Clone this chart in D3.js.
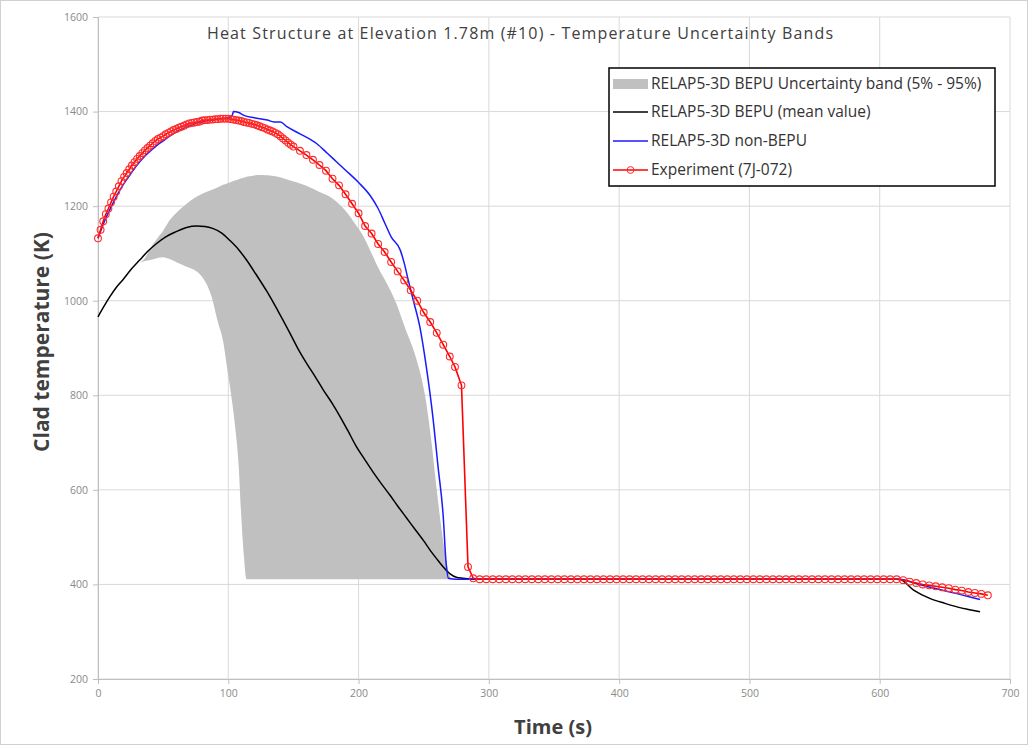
<!DOCTYPE html>
<html>
<head>
<meta charset="utf-8">
<script src="https://cdn.jsdelivr.net/npm/d3@7"></script>
<style>
  html, body { margin: 0; padding: 0; background: #fff; }
  svg { display: block; }
  text { font-family: "Open Sans", "Noto Sans", sans-serif; }
</style>
</head>
<body>
<svg id="chart" width="1028" height="754"></svg>
<script>
// ---------------- DATA ----------------
const chartTitle = "Heat Structure at Elevation 1.78m (#10) - Temperature Uncertainty Bands";
const xAxisTitle = "Time (s)";
const yAxisTitle = "Clad temperature (K)";
const xTicks = [0, 100, 200, 300, 400, 500, 600, 700];
const yTicks = [200, 400, 600, 800, 1000, 1200, 1400, 1600];
const seriesNames = [
  "RELAP5-3D BEPU Uncertainty band (5% - 95%)",
  "RELAP5-3D BEPU (mean value)",
  "RELAP5-3D non-BEPU",
  "Experiment (7J-072)"
];

// Uncertainty band (5% - 95%)
const bandTime = [32, 36, 40, 45, 50, 55, 62, 68, 74, 80, 87, 92, 96, 99, 102, 105, 108, 110, 112, 114, 125, 135, 147, 160, 170, 178, 190, 198, 204, 210, 216, 222, 229, 236, 244, 251, 256, 260, 264, 267, 270, 272];
const bandHigh = [1080, 1090, 1110, 1130, 1148, 1170, 1191, 1205, 1217, 1226, 1234, 1240, 1245, 1248, 1251, 1254, 1257, 1259, 1260, 1262, 1266, 1264, 1255, 1243, 1230, 1220, 1190, 1160, 1135, 1100, 1065, 1035, 994, 940, 880, 800, 700, 600, 510, 455, 418, 411];
const bandLow  = [1080, 1084, 1086, 1090, 1092, 1088, 1079, 1072, 1065, 1050, 1010, 955, 915, 860, 805, 740, 649, 543, 460, 411, 411, 411, 411, 411, 411, 411, 411, 411, 411, 411, 411, 411, 411, 411, 411, 411, 411, 411, 411, 411, 411, 411];

// BEPU mean value
const meanTime = [0, 5, 9, 14, 19, 25, 32, 38, 45, 52, 60, 68, 76, 82, 88, 95, 101, 108, 114, 121, 130, 138, 147, 153, 160, 167, 173, 180, 186, 192, 198, 205, 211, 218, 224, 230, 237, 244, 250, 255, 260, 265, 270, 275, 280, 290, 615, 626, 638, 650, 660, 670, 677];
const meanTemp = [966, 990, 1008, 1028, 1044, 1065, 1086, 1104, 1121, 1135, 1146, 1155, 1158, 1157, 1153, 1143, 1128, 1108, 1086, 1057, 1018, 979, 933, 901, 868, 838, 811, 782, 754, 724, 693, 663, 638, 611, 589, 566, 540, 514, 492, 472, 454, 437, 423, 415, 413, 411, 411, 388, 371, 360, 352, 346, 342];

// non-BEPU
const nonTime = [0, 5, 10, 15, 20, 25, 30, 35, 40, 45, 50, 55, 60, 65, 70, 75, 80, 85, 90, 95, 100, 103, 104, 108, 112, 120, 130, 135, 140, 145, 155, 168, 176, 183, 190, 200, 209, 215, 220, 225, 232, 235, 238, 242, 247, 252, 257, 261, 265, 267, 269, 275, 615, 630, 645, 660, 670, 677];
const nonTemp = [1132, 1168, 1198, 1225, 1248, 1268, 1287, 1303, 1316, 1328, 1338, 1348, 1357, 1364, 1370, 1375, 1378, 1381, 1383, 1385, 1387, 1392, 1400, 1398, 1392, 1387, 1382, 1378, 1378, 1368, 1353, 1332, 1312, 1294, 1276, 1250, 1222, 1195, 1165, 1135, 1107, 1080, 1045, 1001, 945, 860, 755, 649, 543, 452, 413, 411, 411, 400, 390, 380, 373, 368];

// Experiment (7J-072)
const expTime = [0, 2, 4, 6, 8, 10, 12, 14, 16, 18, 20, 22, 24, 26, 28, 30, 32, 34, 36, 38, 40, 42, 44, 46, 48, 50, 52, 54, 56, 58, 60, 62, 64, 66, 68, 70, 72, 74, 76, 78, 80, 82, 84, 86, 88, 90, 92, 94, 96, 98, 100, 102, 104, 106, 108, 110, 112, 114, 116, 118, 120, 122, 124, 126, 128, 130, 132, 134, 136, 138, 140, 142, 144, 146, 148, 150,
  155, 160, 165, 170, 175, 180, 185, 190, 195, 200, 205, 210, 215, 220, 225, 230, 235, 240, 245, 250, 255, 260, 265, 270, 274, 279, 284, 288,
  293, 298, 303, 308, 313, 318, 323, 328, 333, 338, 343, 348, 353, 358, 363, 368, 373, 378, 383, 388, 393, 398, 403, 408, 413, 418, 423, 428, 433, 438, 443, 448, 453, 458, 463, 468, 473, 478, 483, 488, 493, 498, 503, 508, 513, 518, 523, 528, 533, 538, 543, 548, 553, 558, 563, 568, 573, 578, 583, 588, 593, 598, 603, 608, 613,
  618, 623, 628, 633, 638, 643, 648, 653, 658, 663, 668, 673, 678, 683];
const expTemp = [1132, 1150, 1168, 1183, 1195, 1208, 1220, 1231, 1242, 1253, 1262, 1270, 1278, 1286, 1293, 1300, 1306, 1312, 1318, 1323, 1328, 1333, 1338, 1342, 1345, 1348, 1352, 1355, 1358, 1361, 1363, 1366, 1368, 1370, 1373, 1375, 1376, 1377, 1378, 1379, 1381, 1382, 1382, 1383, 1383, 1384, 1384, 1385, 1385, 1385, 1385, 1384, 1383, 1382, 1381, 1380, 1378, 1377, 1376, 1374, 1373, 1371, 1369, 1367, 1365, 1362, 1360, 1358, 1355, 1352, 1348, 1343, 1339, 1334, 1330, 1326,
  1317, 1308, 1298, 1287, 1275, 1258, 1244, 1225, 1205, 1185, 1158, 1142, 1120, 1103, 1082, 1062, 1043, 1022, 1000, 975, 955, 932, 907, 882, 860, 821, 437, 413,
  411, 411, 411, 411, 411, 411, 411, 411, 411, 411, 411, 411, 411, 411, 411, 411, 411, 411, 411, 411, 411, 411, 411, 411, 411, 411, 411, 411, 411, 411, 411, 411, 411, 411, 411, 411, 411, 411, 411, 411, 411, 411, 411, 411, 411, 411, 411, 411, 411, 411, 411, 411, 411, 411, 411, 411, 411, 411, 411, 411, 411, 411, 411, 411, 411,
  409, 406, 403, 400, 398, 396, 394, 392, 389, 387, 384, 382, 380, 377];

// ---------------- CHART ----------------
const svg = d3.select("#chart");
const W = 1028, H = 754;
const plot = { left: 98, right: 1010, top: 17, bottom: 679 };

const x = d3.scaleLinear().domain([0, 700]).range([plot.left, plot.right]);
const y = d3.scaleLinear().domain([200, 1600]).range([plot.bottom, plot.top]);

// outer frame
svg.append("rect").attr("x", 0.5).attr("y", 0.5).attr("width", W - 1).attr("height", H - 10)
  .attr("fill", "#fff").attr("stroke", "#d0d0d0");

// gridlines
const grid = svg.append("g");
grid.selectAll("line.v").data(xTicks).join("line")
  .attr("x1", d => x(d)).attr("x2", d => x(d))
  .attr("y1", plot.top).attr("y2", plot.bottom)
  .attr("stroke", "#d9d9d9").attr("stroke-width", 1);
grid.selectAll("line.h").data(yTicks).join("line")
  .attr("x1", plot.left).attr("x2", plot.right)
  .attr("y1", d => y(d)).attr("y2", d => y(d))
  .attr("stroke", "#d9d9d9").attr("stroke-width", 1);

// axes
const xAxis = d3.axisBottom(x).tickValues(xTicks).tickFormat(d3.format("d")).tickSize(5).tickPadding(6);
const yAxis = d3.axisLeft(y).tickValues(yTicks).tickFormat(d3.format("d")).tickSize(5).tickPadding(5);
const gx = svg.append("g").attr("transform", `translate(0,${plot.bottom})`).call(xAxis);
const gy = svg.append("g").attr("transform", `translate(${plot.left},0)`).call(yAxis);
[gx, gy].forEach(g => {
  g.select(".domain").attr("stroke", "#bfbfbf");
  g.selectAll(".tick line").attr("stroke", "#bfbfbf");
  g.selectAll(".tick text").attr("fill", "#8a8a8a").style("font-size", "10.5px");
});

// band
const bandData = bandTime.map((t, i) => ({ t, lo: bandLow[i], hi: bandHigh[i] }));
svg.append("path").datum(bandData)
  .attr("fill", "#c0c0c0")
  .attr("d", d3.area().x(d => x(d.t)).y0(d => y(d.lo)).y1(d => y(d.hi)).curve(d3.curveMonotoneX));

// mean line
svg.append("path").datum(meanTime.map((t, i) => [t, meanTemp[i]]))
  .attr("fill", "none").attr("stroke", "#000").attr("stroke-width", 1.5)
  .attr("d", d3.line().x(d => x(d[0])).y(d => y(d[1])).curve(d3.curveMonotoneX));

// non-BEPU
svg.append("path").datum(nonTime.map((t, i) => [t, nonTemp[i]]))
  .attr("fill", "none").attr("stroke", "#1a1aff").attr("stroke-width", 1.5)
  .attr("d", d3.line().x(d => x(d[0])).y(d => y(d[1])).curve(d3.curveMonotoneX));

// experiment
const expData = expTime.map((t, i) => [t, expTemp[i]]);
svg.append("path").datum(expData)
  .attr("fill", "none").attr("stroke", "#ff0000").attr("stroke-width", 1.6)
  .attr("d", d3.line().x(d => x(d[0])).y(d => y(d[1])));
svg.append("g").selectAll("circle").data(expData).join("circle")
  .attr("cx", d => x(d[0])).attr("cy", d => y(d[1])).attr("r", 3.4)
  .attr("fill", "none").attr("stroke", "#ff2a2a").attr("stroke-width", 1.1);

// title
svg.append("text").attr("x", 520).attr("y", 39).attr("text-anchor", "middle")
  .attr("fill", "#404040").style("font-size", "16px")
  .attr("textLength", 626).attr("lengthAdjust", "spacing").text(chartTitle);

// axis titles
svg.append("text").attr("x", 553).attr("y", 734).attr("text-anchor", "middle")
  .attr("fill", "#404040").style("font-size", "20px").style("font-weight", "bold").text(xAxisTitle);
svg.append("text").attr("transform", "translate(49,342) rotate(-90)").attr("text-anchor", "middle")
  .attr("fill", "#404040").style("font-size", "21px").style("font-weight", "bold").text(yAxisTitle);

// legend
const lg = svg.append("g");
lg.append("rect").attr("x", 609).attr("y", 68).attr("width", 386).attr("height", 118)
  .attr("fill", "#fff").attr("stroke", "#000").attr("stroke-width", 1.5);
const rowY = [84, 112, 141, 170];
const sx0 = 613, sx1 = 648, tx = 651;
lg.append("rect").attr("x", sx0).attr("y", rowY[0] - 5).attr("width", sx1 - sx0).attr("height", 10).attr("fill", "#c0c0c0");
lg.append("line").attr("x1", sx0).attr("x2", sx1).attr("y1", rowY[1]).attr("y2", rowY[1]).attr("stroke", "#000").attr("stroke-width", 1.5);
lg.append("line").attr("x1", sx0).attr("x2", sx1).attr("y1", rowY[2]).attr("y2", rowY[2]).attr("stroke", "#1a1aff").attr("stroke-width", 1.5);
lg.append("line").attr("x1", sx0).attr("x2", sx1).attr("y1", rowY[3]).attr("y2", rowY[3]).attr("stroke", "#ff0000").attr("stroke-width", 1.5);
lg.append("circle").attr("cx", (sx0 + sx1) / 2).attr("cy", rowY[3]).attr("r", 3.4).attr("fill", "none").attr("stroke", "#ff2a2a");
lg.selectAll("text").data(seriesNames).join("text")
  .attr("x", tx).attr("y", (d, i) => rowY[i] + 5)
  .attr("fill", "#333").style("font-size", "15.5px").text(d => d);
</script>
</body>
</html>
